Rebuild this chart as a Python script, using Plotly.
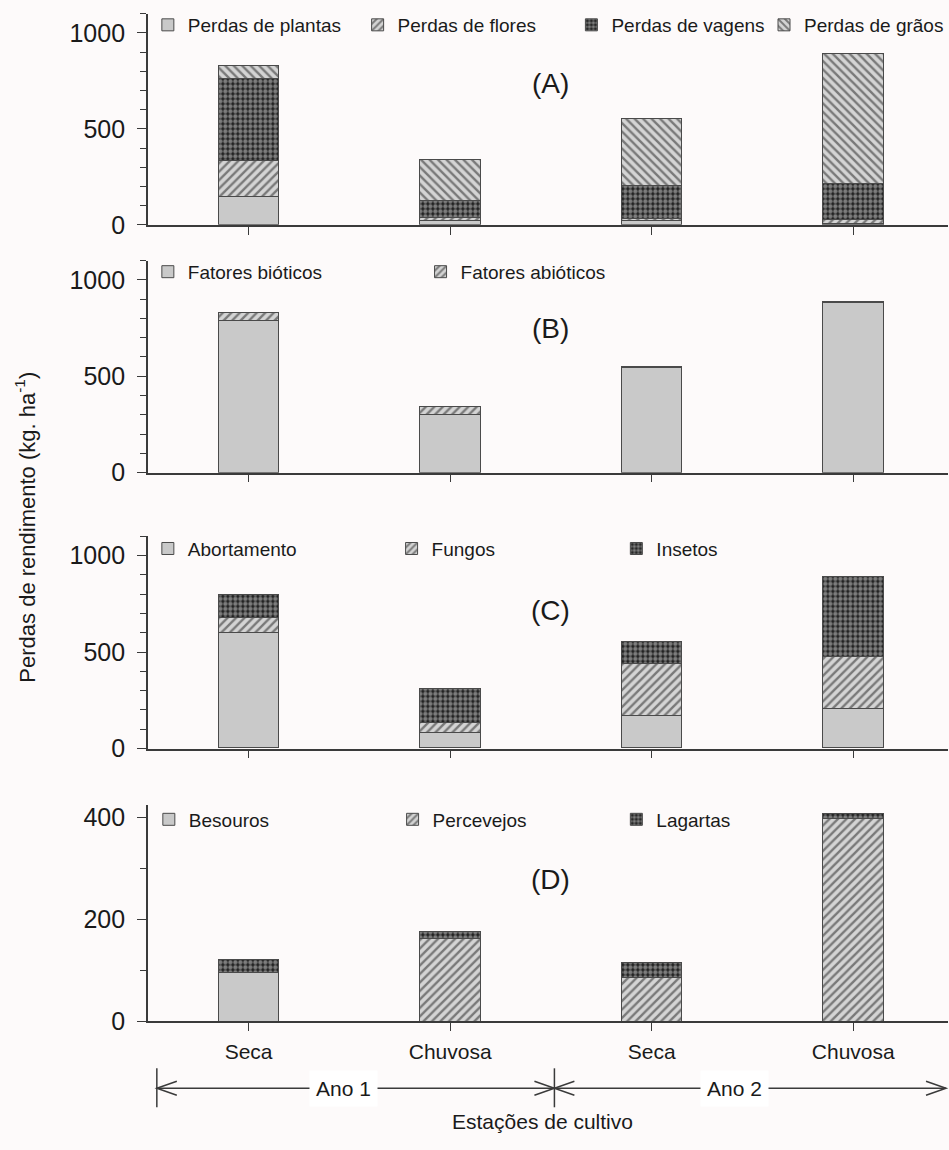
import plotly.graph_objects as go

# ---------------- data ----------------
seasons = ["Seca", "Chuvosa", "Seca", "Chuvosa"]

# (A)
perdas_plantas = [145, 20, 20, 5]
perdas_flores = [190, 18, 10, 20]
perdas_vagens = [425, 85, 173, 188]
perdas_graos = [70, 217, 352, 680]

# (B)
fatores_bioticos = [790, 304, 545, 883]
fatores_abioticos = [38, 38, 5, 5]

# (C)
abortamento = [598, 81, 167, 201]
fungos = [76, 51, 268, 271]
insetos = [122, 176, 117, 416]

# (D)
besouros = [96, 0, 0, 0]
percevejos = [0, 163, 86, 398]
lagartas = [25, 13, 28, 10]

panel_labels = ["(A)", "(B)", "(C)", "(D)"]
year_labels = ["Ano 1", "Ano 2"]
y_title = "Perdas de rendimento (kg. ha<sup>-1</sup>)"
x_title = "Estações de cultivo"

# ---------------- styles ----------------
W, H = 949, 1150
SY = 0.9876  # vertical scale observed in the captured page
FONT = "Liberation Sans, Arial, sans-serif"
GRAY = "#c9c9c9"
EDGE = "#4a4a4a"
INK = "#1a1a1a"

def px_x(p):
    return p / W

def px_y(p):
    return max(0.0, 1 - (p / SY) / H)

solid = dict(shape="")
fwd = dict(shape="/", fgcolor="#1e1e1e", bgcolor="#d4d4d4", size=6, solidity=0.4)
back = dict(shape="\\", fgcolor="#1e1e1e", bgcolor="#d4d4d4", size=6, solidity=0.4)
dots = dict(shape=".", fgcolor="#dcdcdc", bgcolor="#1e1e1e", size=5, solidity=0.6)

xs = list(range(len(seasons)))

panels = [
    ([("Perdas de plantas", perdas_plantas, solid),
      ("Perdas de flores", perdas_flores, fwd),
      ("Perdas de vagens", perdas_vagens, dots),
      ("Perdas de grãos", perdas_graos, back)],
     1100, 500, 100, (12.8, 224)),
    ([("Fatores bióticos", fatores_bioticos, solid),
      ("Fatores abióticos", fatores_abioticos, fwd)],
     1100, 500, 100, (259.7, 472)),
    ([("Abortamento", abortamento, solid),
      ("Fungos", fungos, fwd),
      ("Insetos", insetos, dots)],
     1100, 500, 100, (535.7, 748)),
    ([("Besouros", besouros, solid),
      ("Percevejos", percevejos, fwd),
      ("Lagartas", lagartas, dots)],
     425, 200, 100, (804.3, 1021)),
]

legend_text_x = [[188, 398, 612, 805], [188, 461], [188, 432, 657], [189, 433, 657]]
legend_cy = [24, 271, 548, 819]
label_cy = [83, 328, 610, 879]

fig = go.Figure()
layout = dict(
    width=W, height=H, margin=dict(l=0, r=0, t=0, b=0),
    paper_bgcolor="#fdfafa", plot_bgcolor="#fdfafa",
    barmode="stack", bargap=0, showlegend=True,
    font=dict(family=FONT, color=INK),
)

annotations = []
shapes = []
leg_i = 0
for pi, (series, ymax, dtick, mdtick, (ptop, pzero)) in enumerate(panels):
    n = "" if pi == 0 else str(pi + 1)
    xa, ya = "x" + n, "y" + n
    for si, (name, vals, pat) in enumerate(series):
        leg_i += 1
        lname = "legend" if leg_i == 1 else f"legend{leg_i}"
        marker = dict(color=GRAY, line=dict(color=EDGE, width=1))
        if pat.get("shape"):
            marker["pattern"] = pat
            marker["color"] = pat["bgcolor"]
        fig.add_trace(go.Bar(
            x=xs, y=vals, name=name, width=0.3, marker=marker,
            xaxis=xa, yaxis=ya, legend=lname, showlegend=True,
        ))
        layout[lname] = dict(
            x=px_x(legend_text_x[pi][si] - 40), xanchor="left",
            y=px_y(legend_cy[pi]), yanchor="middle",
            orientation="h", bgcolor="rgba(0,0,0,0)",
            font=dict(family=FONT, size=19, color=INK),
            itemclick=False, itemdoubleclick=False,
        )
    layout["xaxis" + n] = dict(
        domain=[148 / W, 1], range=[-0.5, 3.47], anchor=ya,
        showline=True, linecolor="#3a3a3a", linewidth=1.5,
        ticks="outside", ticklen=8, tickcolor="#3a3a3a",
        tickvals=xs, ticktext=seasons, showticklabels=(pi == 3),
        tickfont=dict(family=FONT, size=21, color=INK), ticklabelstandoff=3,
        showgrid=False, zeroline=False, fixedrange=True,
    )
    layout["yaxis" + n] = dict(
        domain=[px_y(pzero), px_y(ptop)], range=[0, ymax], anchor=xa,
        showline=True, linecolor="#3a3a3a", linewidth=1.5,
        ticks="outside", ticklen=9, tickcolor="#3a3a3a", dtick=dtick, tick0=0,
        minor=dict(dtick=mdtick, ticks="outside", ticklen=6, tickcolor="#3a3a3a", showgrid=False),
        tickfont=dict(family=FONT, size=25, color=INK), ticklabelstandoff=7,
        showgrid=False, zeroline=False, fixedrange=True,
    )
    annotations.append(dict(
        text=panel_labels[pi], x=px_x(551), y=px_y(label_cy[pi]),
        xref="paper", yref="paper", xanchor="center", yanchor="middle", showarrow=False,
        font=dict(family=FONT, size=28, color=INK),
    ))

annotations.append(dict(
    text=y_title, x=px_x(25), y=px_y(526), xref="paper", yref="paper",
    xanchor="center", yanchor="middle",
    textangle=-90, showarrow=False, font=dict(family=FONT, size=22, color=INK),
))
annotations.append(dict(
    text=x_title, x=px_x(543), y=0, xref="paper", yref="paper",
    xanchor="center", yanchor="bottom", yshift=1,
    showarrow=False, font=dict(family=FONT, size=21, color=INK),
))

line_y = 1088
bracket_x = [157, 555, 947]
for bx in bracket_x[:2]:
    shapes.append(dict(type="line", xref="paper", yref="paper",
                       x0=px_x(bx), x1=px_x(bx), y0=px_y(1068), y1=px_y(1107),
                       line=dict(color="#3a3a3a", width=1.5)))
for k in range(2):
    xl, xr = bracket_x[k], bracket_x[k + 1]
    shapes.append(dict(type="line", xref="paper", yref="paper",
                       x0=px_x(xl), x1=px_x(xr), y0=px_y(line_y), y1=px_y(line_y),
                       line=dict(color="#3a3a3a", width=1.5)))
    for (tip, d) in ((xl, 1), (xr, -1)):
        shapes.append(dict(type="path", xref="paper", yref="paper",
                           path=f"M {px_x(tip + d * 20)},{px_y(line_y - 7)} L {px_x(tip)},{px_y(line_y)} L {px_x(tip + d * 20)},{px_y(line_y + 7)}",
                           line=dict(color="#3a3a3a", width=1.5)))
    annotations.append(dict(
        text=year_labels[k], x=px_x([344, 735][k]), y=px_y(line_y),
        xref="paper", yref="paper", xanchor="center", yanchor="middle",
        showarrow=False, bgcolor="#ffffff",
        borderpad=6, font=dict(family=FONT, size=21, color=INK),
    ))

layout["annotations"] = annotations
layout["shapes"] = shapes
fig.update_layout(**layout)

fig.write_html("out.html")
